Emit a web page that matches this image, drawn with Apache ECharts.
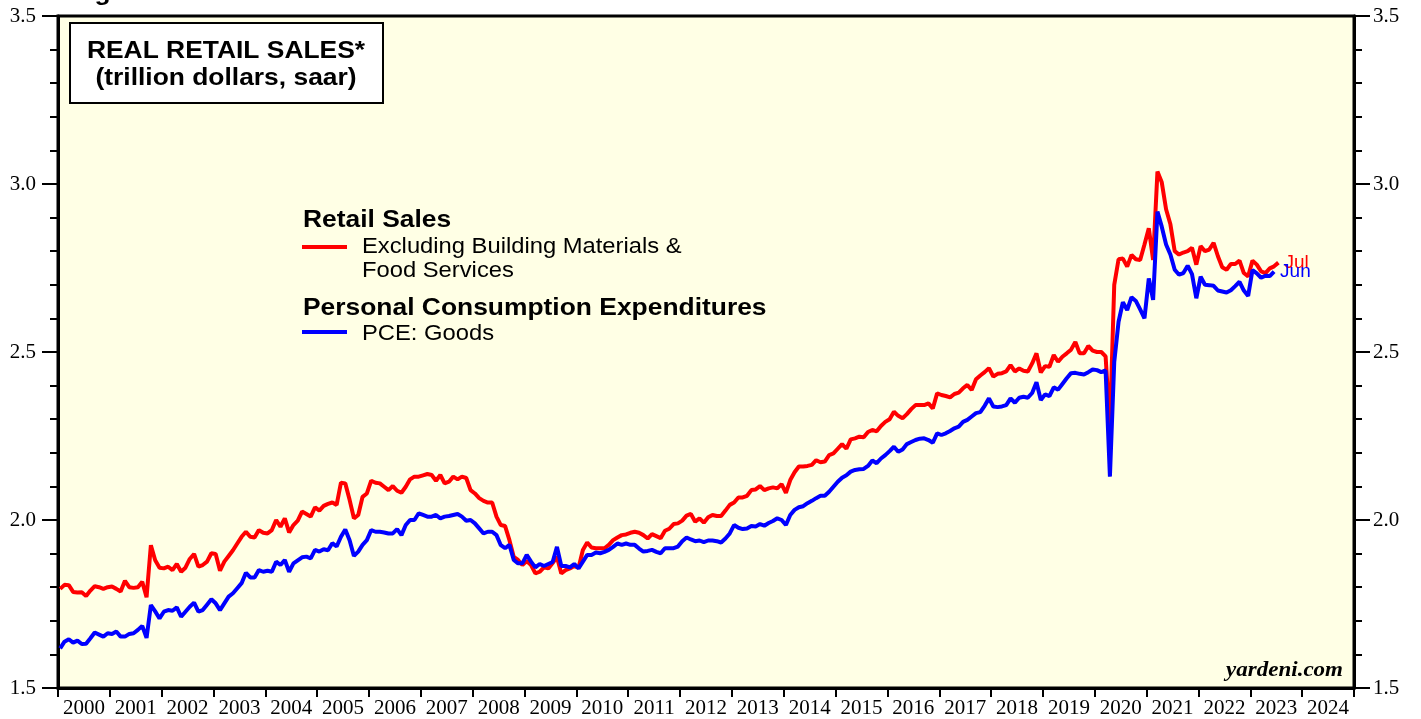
<!DOCTYPE html>
<html>
<head>
<meta charset="utf-8">
<title>Real Retail Sales</title>
<script src="https://cdn.jsdelivr.net/npm/echarts@6/dist/echarts.min.js"></script>
<style>
  html, body { margin: 0; padding: 0; background: #fff; }
  #chart { width: 1421px; height: 719px; }
</style>
</head>
<body>
<div id="chart"></div>
<script>
// monthly values from Jan 2000, trillion dollars, saar
const startYear = 2000;
const yearLabels = ['2000', '2001', '2002', '2003', '2004', '2005', '2006', '2007', '2008', '2009', '2010', '2011', '2012',
  '2013', '2014', '2015', '2016', '2017', '2018', '2019', '2020', '2021', '2022', '2023', '2024'];

// Retail sales excl. building materials & food services (through Jul 2023)
const retailSales = [
  1.795, 1.807, 1.806, 1.786, 1.784, 1.785, 1.774, 1.790, 1.803, 1.800, 1.795, 1.800, // 2000
  1.802, 1.795, 1.787, 1.819, 1.800, 1.798, 1.800, 1.816, 1.770, 1.925, 1.880, 1.858, // 2001
  1.856, 1.861, 1.851, 1.869, 1.846, 1.858, 1.884, 1.899, 1.861, 1.866, 1.876, 1.901, // 2002
  1.899, 1.849, 1.876, 1.893, 1.910, 1.930, 1.950, 1.965, 1.950, 1.948, 1.970, 1.962, // 2003
  1.960, 1.970, 2.000, 1.980, 2.005, 1.963, 1.985, 1.998, 2.025, 2.018, 2.010, 2.038, // 2004
  2.028, 2.042, 2.048, 2.052, 2.045, 2.111, 2.109, 2.060, 2.005, 2.015, 2.069, 2.079, // 2005
  2.117, 2.111, 2.109, 2.099, 2.089, 2.101, 2.087, 2.081, 2.099, 2.121, 2.129, 2.129, // 2006
  2.133, 2.137, 2.134, 2.117, 2.134, 2.109, 2.114, 2.129, 2.121, 2.129, 2.125, 2.089, // 2007
  2.079, 2.065, 2.057, 2.052, 2.052, 2.010, 1.985, 1.982, 1.940, 1.890, 1.881, 1.866, // 2008
  1.878, 1.866, 1.841, 1.846, 1.859, 1.856, 1.872, 1.890, 1.841, 1.851, 1.856, 1.863, // 2009
  1.858, 1.911, 1.933, 1.918, 1.916, 1.916, 1.916, 1.926, 1.940, 1.948, 1.955, 1.957, // 2010
  1.962, 1.965, 1.962, 1.955, 1.945, 1.958, 1.952, 1.946, 1.968, 1.974, 1.988, 1.990, // 2011
  1.998, 2.013, 2.018, 1.995, 2.005, 1.992, 2.008, 2.015, 2.012, 2.012, 2.028, 2.045, // 2012
  2.052, 2.067, 2.067, 2.072, 2.089, 2.091, 2.101, 2.089, 2.094, 2.097, 2.094, 2.107, // 2013
  2.081, 2.119, 2.142, 2.159, 2.159, 2.161, 2.164, 2.178, 2.172, 2.174, 2.193, 2.198, // 2014
  2.212, 2.226, 2.212, 2.240, 2.243, 2.248, 2.246, 2.262, 2.268, 2.264, 2.280, 2.292, // 2015
  2.300, 2.322, 2.310, 2.303, 2.315, 2.330, 2.342, 2.342, 2.342, 2.347, 2.332, 2.377, // 2016
  2.372, 2.369, 2.365, 2.375, 2.379, 2.392, 2.402, 2.387, 2.419, 2.430, 2.440, 2.452, // 2017
  2.427, 2.435, 2.437, 2.442, 2.461, 2.442, 2.451, 2.444, 2.442, 2.466, 2.496, 2.439, // 2018
  2.458, 2.456, 2.491, 2.471, 2.486, 2.496, 2.507, 2.530, 2.496, 2.496, 2.518, 2.504, // 2019
  2.500, 2.500, 2.487, 2.277, 2.700, 2.776, 2.778, 2.754, 2.789, 2.776, 2.774, 2.820, // 2020
  2.868, 2.774, 3.037, 3.005, 2.925, 2.880, 2.800, 2.790, 2.796, 2.800, 2.810, 2.760, // 2021
  2.815, 2.800, 2.805, 2.825, 2.785, 2.752, 2.745, 2.762, 2.762, 2.772, 2.735, 2.725, // 2022
  2.772, 2.760, 2.740, 2.735, 2.749, 2.755, 2.766                                     // 2023
];

// PCE: goods (through Jun 2023)
const pceGoods = [
  1.618, 1.638, 1.645, 1.635, 1.641, 1.631, 1.632, 1.648, 1.665, 1.659, 1.653, 1.663, // 2000
  1.661, 1.668, 1.653, 1.653, 1.661, 1.663, 1.673, 1.685, 1.649, 1.747, 1.728, 1.707, // 2001
  1.727, 1.732, 1.730, 1.740, 1.712, 1.727, 1.742, 1.754, 1.727, 1.732, 1.748, 1.764, // 2002
  1.752, 1.732, 1.752, 1.772, 1.782, 1.797, 1.812, 1.843, 1.829, 1.829, 1.851, 1.846, // 2003
  1.849, 1.846, 1.876, 1.866, 1.881, 1.846, 1.871, 1.880, 1.889, 1.891, 1.886, 1.911, // 2004
  1.906, 1.913, 1.910, 1.931, 1.921, 1.950, 1.972, 1.940, 1.893, 1.906, 1.926, 1.940, // 2005
  1.970, 1.965, 1.965, 1.963, 1.960, 1.960, 1.973, 1.955, 1.985, 2.000, 2.000, 2.020, // 2006
  2.015, 2.010, 2.010, 2.015, 2.005, 2.010, 2.012, 2.015, 2.018, 2.010, 1.998, 2.000, // 2007
  1.990, 1.975, 1.960, 1.965, 1.965, 1.955, 1.925, 1.916, 1.926, 1.881, 1.871, 1.871, // 2008
  1.896, 1.876, 1.859, 1.869, 1.863, 1.869, 1.875, 1.920, 1.863, 1.863, 1.859, 1.869, // 2009
  1.856, 1.876, 1.896, 1.896, 1.903, 1.901, 1.905, 1.911, 1.920, 1.930, 1.926, 1.930, // 2010
  1.926, 1.926, 1.915, 1.906, 1.908, 1.911, 1.905, 1.901, 1.916, 1.916, 1.916, 1.921, // 2011
  1.937, 1.948, 1.942, 1.937, 1.939, 1.934, 1.939, 1.939, 1.937, 1.933, 1.945, 1.960, // 2012
  1.985, 1.977, 1.973, 1.975, 1.982, 1.981, 1.988, 1.983, 1.991, 1.997, 2.005, 2.000, // 2013
  1.985, 2.015, 2.030, 2.038, 2.041, 2.050, 2.057, 2.065, 2.072, 2.072, 2.084, 2.099, // 2014
  2.114, 2.126, 2.133, 2.144, 2.149, 2.151, 2.152, 2.161, 2.177, 2.169, 2.183, 2.193, // 2015
  2.205, 2.218, 2.203, 2.210, 2.226, 2.232, 2.238, 2.242, 2.243, 2.238, 2.230, 2.258, // 2016
  2.253, 2.258, 2.265, 2.273, 2.278, 2.292, 2.298, 2.308, 2.318, 2.321, 2.340, 2.362, // 2017
  2.338, 2.336, 2.338, 2.342, 2.362, 2.349, 2.364, 2.367, 2.364, 2.378, 2.410, 2.357, // 2018
  2.374, 2.369, 2.395, 2.388, 2.405, 2.422, 2.437, 2.438, 2.435, 2.433, 2.440, 2.448, // 2019
  2.446, 2.440, 2.445, 2.129, 2.470, 2.590, 2.648, 2.625, 2.663, 2.652, 2.627, 2.600, // 2020
  2.719, 2.655, 2.918, 2.873, 2.820, 2.790, 2.745, 2.730, 2.735, 2.757, 2.732, 2.660, // 2021
  2.724, 2.700, 2.699, 2.697, 2.683, 2.680, 2.677, 2.684, 2.696, 2.709, 2.683, 2.667, // 2022
  2.744, 2.734, 2.721, 2.727, 2.726, 2.739                                            // 2023
];

const retailLastMonth = 'Jul';
const pceLastMonth = 'Jun';

// place each monthly value at the middle of its month
function toPoints(values) {
  return values.map((v, i) => [startYear + (i + 0.5) / 12, v]);
}

const sans = 'Liberation Sans, Arial, sans-serif';
const serif = 'Liberation Serif, Times New Roman, serif';

const yAxisBase = {
  type: 'value',
  min: 1.5,
  max: 3.5,
  interval: 0.5,
  axisLine: { show: true, lineStyle: { color: '#000', width: 3 } },
  axisTick: { show: true, length: 16, lineStyle: { color: '#000', width: 2 } },
  minorTick: { show: true, splitNumber: 5, length: 8, lineStyle: { color: '#000', width: 2 } },
  splitLine: { show: false },
  axisLabel: {
    color: '#000',
    fontFamily: serif,
    fontSize: 21,
    margin: 22,
    formatter: v => v.toFixed(1)
  }
};

const option = {
  animation: false,
  backgroundColor: '#fff',
  grid: {
    left: 58,
    right: 67,
    top: 16,
    bottom: 31,
    show: true,
    backgroundColor: '#ffffe5',
    borderColor: '#000',
    borderWidth: 3
  },
  xAxis: [
    {
      // year labels centred between the yearly ticks
      type: 'category',
      data: yearLabels,
      boundaryGap: true,
      position: 'bottom',
      axisLine: { show: true, lineStyle: { color: '#000', width: 3 } },
      axisTick: { show: true, length: 9, lineStyle: { color: '#000', width: 2 } },
      splitLine: { show: false },
      axisLabel: { interval: 0, color: '#000', fontFamily: serif, fontSize: 21, margin: 10 }
    },
    {
      type: 'value',
      min: startYear,
      max: startYear + yearLabels.length,
      show: false
    }
  ],
  yAxis: [
    Object.assign({}, yAxisBase, { position: 'left' }),
    Object.assign({}, yAxisBase, { position: 'right', axisLabel: Object.assign({}, yAxisBase.axisLabel, { margin: 19 }) })
  ],
  series: [
    {
      name: 'Excluding Building Materials & Food Services',
      type: 'line',
      xAxisIndex: 1,
      yAxisIndex: 0,
      showSymbol: false,
      data: toPoints(retailSales),
      lineStyle: { color: '#ff0000', width: 4 },
      itemStyle: { color: '#ff0000' },
      endLabel: {
        show: true,
        formatter: retailLastMonth,
        color: '#ff0000',
        fontFamily: sans,
        fontSize: 19,
        distance: 6
      },
      z: 2
    },
    {
      name: 'PCE: Goods',
      type: 'line',
      xAxisIndex: 1,
      yAxisIndex: 0,
      showSymbol: false,
      data: toPoints(pceGoods),
      lineStyle: { color: '#0000ff', width: 4 },
      itemStyle: { color: '#0000ff' },
      endLabel: {
        show: true,
        formatter: pceLastMonth,
        color: '#0000ff',
        fontFamily: sans,
        fontSize: 19,
        distance: 6
      },
      z: 3
    }
  ],
  graphic: [
    // cut-off figure caption at the very top
    { type: 'text', x: 71, y: 5, scaleX: 1.1, style: { text: 'Figure', font: 'bold 24px ' + sans, fill: '#000', verticalAlign: 'bottom' } },
    // title box
    { type: 'rect', shape: { x: 70, y: 23, width: 313, height: 80 }, style: { fill: '#fff', stroke: '#000', lineWidth: 2 }, z: 10 },
    { type: 'text', x: 226, y: 51, scaleX: 1.1, z: 11, style: { text: 'REAL RETAIL SALES*', font: 'bold 24px ' + sans, fill: '#000', align: 'center', verticalAlign: 'middle' } },
    { type: 'text', x: 226, y: 78, scaleX: 1.1, z: 11, style: { text: '(trillion dollars, saar)', font: 'bold 24px ' + sans, fill: '#000', align: 'center', verticalAlign: 'middle' } },
    // legend
    { type: 'text', x: 303, y: 220, scaleX: 1.1, z: 11, style: { text: 'Retail Sales', font: 'bold 24px ' + sans, fill: '#000', verticalAlign: 'middle' } },
    { type: 'line', shape: { x1: 302, y1: 247, x2: 347, y2: 247 }, style: { stroke: '#ff0000', lineWidth: 4 }, z: 11 },
    { type: 'text', x: 362, y: 247, scaleX: 1.08, z: 11, style: { text: 'Excluding Building Materials &', font: '22px ' + sans, fill: '#000', verticalAlign: 'middle' } },
    { type: 'text', x: 362, y: 271, scaleX: 1.08, z: 11, style: { text: 'Food Services', font: '22px ' + sans, fill: '#000', verticalAlign: 'middle' } },
    { type: 'text', x: 303, y: 308, scaleX: 1.1, z: 11, style: { text: 'Personal Consumption Expenditures', font: 'bold 24px ' + sans, fill: '#000', verticalAlign: 'middle' } },
    { type: 'line', shape: { x1: 302, y1: 332, x2: 347, y2: 332 }, style: { stroke: '#0000ff', lineWidth: 4 }, z: 11 },
    { type: 'text', x: 362, y: 334, scaleX: 1.08, z: 11, style: { text: 'PCE: Goods', font: '22px ' + sans, fill: '#000', verticalAlign: 'middle' } },
    // source
    { type: 'text', x: 1343, y: 681, scaleX: 1.15, z: 11, style: { text: 'yardeni.com', font: 'italic bold 20px ' + serif, fill: '#000', align: 'right', verticalAlign: 'bottom' } }
  ]
};

const chart = echarts.init(document.getElementById('chart'));
chart.setOption(option);
window.addEventListener('resize', () => chart.resize());
</script>
</body>
</html>
